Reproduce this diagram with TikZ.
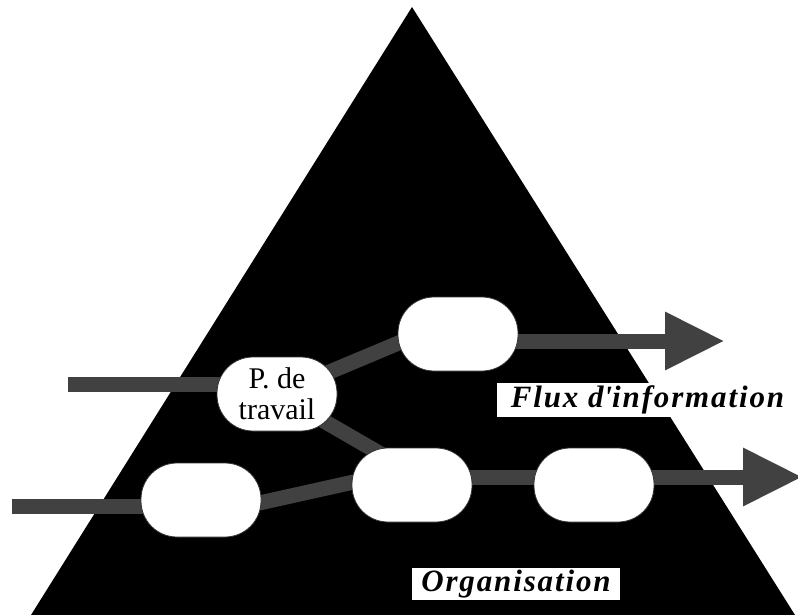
\documentclass[tikz,border=0pt]{standalone}
\usepackage{fontspec}
\setmainfont{Liberation Serif}
\usetikzlibrary{arrows.meta,calc,backgrounds}
\definecolor{flowgray}{HTML}{414141}
\begin{document}
\begin{tikzpicture}[x=1pt,y=-1pt,
  stage/.style={draw=black!80,line width=0.8pt,fill=white,rounded corners=36pt,
    minimum width=120pt,minimum height=74pt,inner sep=0pt},
  flow/.style={draw=flowgray,line width=15pt},
  flowout/.style={flow,-{Triangle[length=60pt,width=54pt]}},
  tag/.style={fill=white,inner sep=0pt,
    font=\fontsize{31}{33}\selectfont\bfseries\itshape\addfontfeature{LetterSpace=6}}]
\useasboundingbox (0,0) rectangle (798,615);

% workstations along the information flow
\node[stage,align=center,font=\fontsize{30}{31}\selectfont] (post) at (277,394) {P. de\\travail};
\node[stage] (up)    at (458,334) {};
\node[stage] (low)   at (201,500) {};
\node[stage] (mid)   at (412,485) {};
\node[stage] (right) at (594,485) {};

% free ends of the flows
\coordinate (in1)  at (68,384);
\coordinate (in2)  at (12,506);
\coordinate (out1) at (725,341);
\coordinate (out2) at (803,477);

\begin{scope}[on background layer]
  % the organisation pyramid
  \fill[black] (412,7) -- (795,615) -- (31,615) -- cycle;
  % flows of information
  \draw[flow] (in1) -- (in1 -| post.center);
  \draw[flow] (post.center) -- ($(up.center)+(-38,0)$);
  \draw[flow] (post.center) -- ($(mid.center)+(0,-13)$);
  \draw[flow] (in2) -- (in2 -| low.center);
  \draw[flow] ($(low.center)+(0,16)$) -- ($(mid.center)+(0,-16)$);
  \draw[flow] ($(mid.center)+(0,-8)$) -- ($(right.center)+(0,-8)$);
  \draw[flowout] ($(up.center)+(0,7)$) -- (out1);
  \draw[flowout] ($(right.center)+(0,-8)$) -- (out2);
\end{scope}

% labels
\node[tag,minimum width=301pt,minimum height=34pt] (flux) at (647.5,400) {Flux d\textquotesingle information};
\node[tag,minimum width=208pt,minimum height=32pt] (org) at (516,584) {Organisation};
\end{tikzpicture}
\end{document}
